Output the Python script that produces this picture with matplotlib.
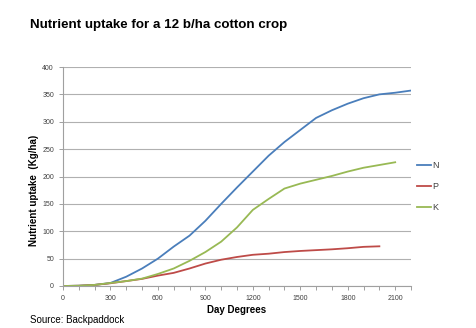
import matplotlib
matplotlib.use("Agg")
import matplotlib.pyplot as plt
from matplotlib.ticker import MultipleLocator

plt.rcParams['font.family'] = ['Liberation Sans', 'DejaVu Sans']

# day degrees and uptake (kg/ha)
days_n = [0, 100, 200, 300, 400, 500, 600, 700, 800, 900, 1000, 1100, 1200,
          1300, 1400, 1500, 1600, 1700, 1800, 1900, 2000, 2100, 2200]
n_vals = [0, 0.5, 2, 5.5, 17, 32, 50, 72, 92, 119, 150, 180, 209,
          238, 263, 285, 307, 321, 333, 343, 350, 353, 357]

days_p = [0, 100, 200, 300, 400, 500, 600, 700, 800, 900, 1000, 1100, 1200,
          1300, 1400, 1500, 1600, 1700, 1800, 1900, 2000]
p_vals = [0, 0.5, 2, 5, 9, 13, 19, 24, 32, 41, 48, 53, 57,
          59, 62, 64, 65.5, 67, 69, 71.5, 72.5]

days_k = [0, 100, 200, 300, 400, 500, 600, 700, 800, 900, 1000, 1100, 1200,
          1300, 1400, 1500, 1600, 1700, 1800, 1900, 2000, 2100]
k_vals = [0, 0.5, 2, 5.5, 9, 13.5, 22, 32, 46, 62, 81, 107, 139,
          159, 178, 187, 194, 201, 209, 216, 221, 226]

colors = {'N': '#4a7ebb', 'P': '#be4b48', 'K': '#98b954'}

fig = plt.figure(figsize=(4.77, 3.28), dpi=100)
ax = fig.add_axes([63/477, 1 - 286/328, (411-63)/477, (286-67)/328])

ax.plot(days_n, n_vals, color=colors['N'], lw=1.3, label='N')
ax.plot(days_p, p_vals, color=colors['P'], lw=1.3, label='P')
ax.plot(days_k, k_vals, color=colors['K'], lw=1.3, label='K')

ax.set_xlim(0, 2200)
ax.set_ylim(0, 400)
ax.xaxis.set_major_locator(MultipleLocator(300))
ax.xaxis.set_minor_locator(MultipleLocator(100))
ax.yaxis.set_major_locator(MultipleLocator(50))
ax.yaxis.grid(True, color='#b0b0b0', lw=0.8)
ax.set_axisbelow(True)
for s in ['top', 'right']:
    ax.spines[s].set_visible(False)
for s in ['left', 'bottom']:
    ax.spines[s].set_color('#a0a0a0')
    ax.spines[s].set_linewidth(0.8)
ax.tick_params(axis='both', which='both', colors='#a0a0a0', labelcolor='#404040',
               labelsize=5, length=3, width=0.7)

ax.set_xlabel('Day Degrees', fontsize=7, fontweight='bold')
ax.xaxis.set_label_coords(0.5, -(305 - 286) / 219, transform=ax.transAxes)
ax.set_ylabel('Nutrient uptake  (Kg/ha)', fontsize=7, fontweight='bold')
ax.yaxis.set_label_coords((39 - 63) / 348, (286 - 190) / 219, transform=ax.transAxes)

ax.legend(loc='center left', bbox_to_anchor=(0.995, 0.455), frameon=False,
          fontsize=6.5, handlelength=1.5, handletextpad=0.2, labelspacing=1.35,
          labelcolor='#404040')

fig.text(30/477, 1 - 25/328, 'Nutrient uptake for a 12 b/ha cotton crop',
         fontsize=9.6, fontweight='bold', va='center', ha='left')
fig.text(30/477, 1 - 320/328, 'Source: Backpaddock', fontsize=7, va='center', ha='left')

fig.savefig('out.png', dpi=100)
